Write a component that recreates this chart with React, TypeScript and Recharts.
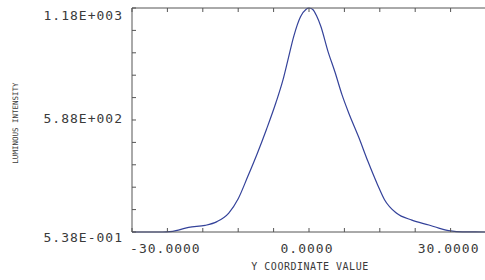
import { LineChart, Line, XAxis, YAxis } from "recharts";

const yCoord = [
  -37.5, -31, -29.5, -27.5, -25.5, -22, -19.5, -17, -15, -13, -11, -9, -7, -5.5, -4.5, -3.2,
  -1.8, -0.6, 0, 0.8, 1.6, 2.5, 4, 5.5, 7, 8.5, 10.5, 12.5, 14.5, 16, 18.5, 21.8, 25.4, 27.5, 30,
  32.5, 37.5,
];
const intensity = [
  0.5, 0.5, 2, 12, 25, 35, 55, 100, 175, 290, 410, 540, 680, 800, 900, 1030, 1130, 1170, 1176,
  1168, 1135, 1080, 950, 840, 720, 620, 500, 370, 250, 170, 100, 63, 37, 21, 6, 1, 0.5,
];

const xTicks = [-37.5, -30, -22.5, -15, -7.5, 0, 7.5, 15, 22.5, 30, 37.5];
const xLabelled = [-30, 0, 30];
const yMin = 0.538;
const yMax = 1176;
const yTicks = Array.from({ length: 11 }, (_, i) => yMin + (i * (yMax - yMin)) / 10);
const yLabelled = [0, 5, 10];

const data = yCoord.map((x, i) => ({ x, v: intensity[i] }));

const AXIS = "#555";
const TEXT = "#3a3a3a";
const FONT = "'DejaVu Sans Mono', monospace";

function sci(v: number) {
  const [m, e] = v.toExponential(2).split("e");
  return `${m}E${e[0]}${e.slice(1).padStart(3, "0")}`;
}

function BottomTick({ x, y, payload }: any) {
  const show = xLabelled.includes(payload.value);
  return (
    <g>
      <line x1={x} x2={x} y1={y} y2={y - 4} stroke={AXIS} />
      {show && (
        <text x={x - 2} y={y + 21} textAnchor="middle" fontFamily={FONT} fontSize={13}
          letterSpacing={1} fill={TEXT}>
          {payload.value.toFixed(4)}
        </text>
      )}
    </g>
  );
}

function TopTick({ x, y }: any) {
  return <line x1={x} x2={x} y1={y} y2={y + 4} stroke={AXIS} />;
}

function LeftTick({ x, y, payload, index }: any) {
  const show = yLabelled.includes(index);
  const shift = index === 10 ? 7 : index === 0 ? 5 : -2;
  return (
    <g>
      <line x1={x} x2={x + 4} y1={y} y2={y} stroke={AXIS} />
      {show && (
        <text x={x - 9} y={y + shift + 5} textAnchor="end" fontFamily={FONT} fontSize={13}
          letterSpacing={1} fill={TEXT}>
          {sci(payload.value)}
        </text>
      )}
    </g>
  );
}

function RightTick({ x, y }: any) {
  return <line x1={x} x2={x - 4} y1={y} y2={y} stroke={AXIS} />;
}

export default function App() {
  return (
    <div style={{ position: "absolute", left: 0, top: 0, width: 485, height: 280, overflow: "hidden", background: "#fff" }}>
      <LineChart width={490} height={280} data={data}
        margin={{ top: 7, right: 3, bottom: 18, left: 0 }}>
        <XAxis xAxisId="b" dataKey="x" type="number" domain={[-37.5, 37.5]} ticks={xTicks}
          interval={0} height={30} tickSize={0} tickMargin={0} stroke={AXIS}
          tick={<BottomTick />} />
        <XAxis xAxisId="t" orientation="top" dataKey="x" type="number" domain={[-37.5, 37.5]}
          ticks={xTicks} interval={0} height={1} tickSize={0} tickMargin={0} stroke={AXIS}
          tick={<TopTick />} />
        <YAxis yAxisId="l" type="number" domain={[yMin, yMax]} ticks={yTicks} interval={0}
          width={132} tickSize={0} tickMargin={0} stroke={AXIS} tick={<LeftTick />} />
        <YAxis yAxisId="r" orientation="right" type="number" domain={[yMin, yMax]} ticks={yTicks}
          interval={0} width={1} tickSize={0} tickMargin={0} stroke={AXIS}
          tick={<RightTick />} />
        <Line xAxisId="b" yAxisId="l" type="monotone" dataKey="v" stroke="#34429a"
          strokeWidth={1.2} dot={false} isAnimationActive={false} />
      </LineChart>
      <div style={{ position: "absolute", left: 0, top: 261, width: 620, textAlign: "center",
        fontFamily: FONT, fontSize: 10, letterSpacing: 0.5, color: TEXT }}>
        Y COORDINATE VALUE
      </div>
      <div style={{ position: "absolute", left: 15, top: 123, transform: "translate(-50%, -50%) rotate(-90deg)",
        whiteSpace: "nowrap", fontFamily: FONT, fontSize: 7.5, color: TEXT }}>
        LUMINOUS INTENSITY
      </div>
    </div>
  );
}
